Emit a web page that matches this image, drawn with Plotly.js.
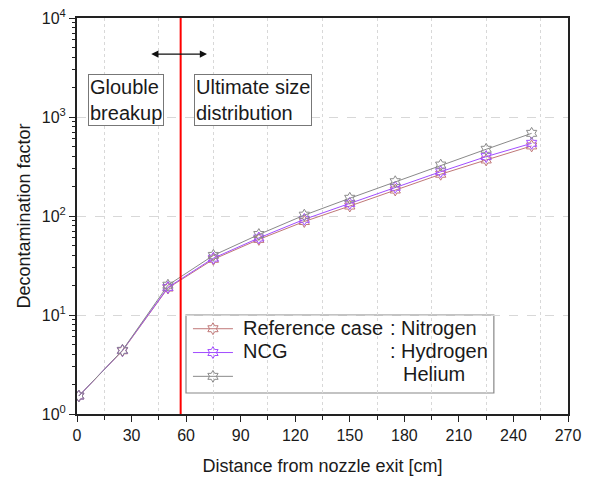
<!DOCTYPE html>
<html>
<head>
<meta charset="utf-8">
<script src="https://cdn.plot.ly/plotly-3.0.1.min.js"></script>
<style>html,body{margin:0;padding:0;background:#fff;}#chart{width:592px;height:478px;}</style>
</head>
<body>
<div id="chart"></div>
<script>
const distance = [1, 25, 50, 75, 100, 125, 150, 175, 200, 225, 250];
const nitrogen = [1.52, 4.35, 18.7, 36.5, 58, 88, 126, 183, 264, 368, 510];
const hydrogen = [1.52, 4.38, 19.0, 37.5, 60, 92.5, 134, 195, 280, 398, 542];
const helium   = [1.52, 4.40, 20.0, 40.0, 65, 102, 151, 222, 327, 472, 684];
const seriesNames = ['Reference case', 'NCG', ''];
const gasNames = [': Nitrogen', ': Hydrogen', 'Helium'];
const boundary = 57;
const yTickVals = [1, 10, 100, 1000, 10000];
const yTickText = ['10<sup>0</sup>', '10<sup>1</sup>', '10<sup>2</sup>', '10<sup>3</sup>', '10<sup>4</sup>'];

const FONT = 'Liberation Sans, Arial, sans-serif';
const TXT = '#1a1a1a';
const colors = ['#c07878', '#a24dff', '#8a8a8a'];
const ys = [nitrogen, hydrogen, helium];
const rowY = [0.217, 0.159, 0.101];

const traces = ys.map((y, i) => ({
  x: distance, y: y, name: ' ',
  mode: 'lines+markers', type: 'scatter',
  line: {color: colors[i], width: 1},
  marker: {symbol: 'hexagram-open', size: 9, color: colors[i], line: {width: 1, color: colors[i]}}
}));

const minorY = [];
for (let d = 0; d < 4; d++) for (let k = 2; k <= 9; k++) minorY.push(k * Math.pow(10, d));

const nameAnn = seriesNames.filter(t => t).map((t, i) => ({
  xref: 'paper', yref: 'paper', x: 0.334, y: rowY[i],
  xanchor: 'left', yanchor: 'middle', showarrow: false, text: t,
  font: {family: FONT, size: 20, color: TXT}
}));
const gasAnn = gasNames.map((t, i) => ({
  xref: 'paper', yref: 'paper', x: i < 2 ? 0.634 : 0.660, y: rowY[i],
  xanchor: 'left', yanchor: 'middle', showarrow: false, text: t,
  font: {family: FONT, size: 20, color: TXT}
}));

const layout = {
  width: 592, height: 478,
  margin: {l: 77, r: 24, t: 18, b: 64},
  paper_bgcolor: '#fff', plot_bgcolor: '#fff',
  font: {family: FONT, size: 16, color: TXT},
  showlegend: true,
  legend: {x: 0.226, y: 0.258, xanchor: 'left', yanchor: 'top',
    bgcolor: 'rgba(0,0,0,0)', borderwidth: 0,
    font: {family: FONT, size: 16, color: TXT}, tracegroupgap: 0, itemwidth: 40},
  xaxis: {
    range: [0, 270], dtick: 30, tick0: 0,
    showgrid: false, zeroline: false,
    ticks: 'outside', ticklen: 6, tickwidth: 1, tickcolor: '#222',
    showline: true, linecolor: '#222', linewidth: 2, mirror: true,
    minor: {dtick: 15, tick0: 0, ticks: 'outside', ticklen: 4, tickcolor: '#222', showgrid: true, gridcolor: '#d8d8d8', griddash: 'dot', gridwidth: 1},
    tickfont: {family: FONT, size: 16, color: TXT},
    title: {text: 'Distance from nozzle exit [cm]', font: {family: FONT, size: 18, color: TXT}, standoff: 16}
  },
  yaxis: {
    type: 'log', range: [0, 4],
    tickvals: yTickVals, ticktext: yTickText,
    showgrid: true, gridcolor: '#d8d8d8', griddash: 'dash', gridwidth: 1,
    zeroline: false,
    ticks: 'outside', ticklen: 6, tickwidth: 1, tickcolor: '#222',
    showline: true, linecolor: '#222', linewidth: 2, mirror: true,
    minor: {tickvals: minorY, ticks: 'outside', ticklen: 3, tickcolor: '#222', showgrid: false},
    tickfont: {family: FONT, size: 16, color: TXT},
    title: {text: 'Decontamination factor', font: {family: FONT, size: 18, color: TXT}, standoff: 6}
  },
  shapes: [
    {type: 'rect', xref: 'paper', yref: 'paper', x0: 0.222, x1: 0.849, y0: 0.053, y1: 0.25,
      line: {color: '#888', width: 1.2}, fillcolor: '#fff', layer: 'between'},
    {type: 'line', xref: 'x', yref: 'paper', x0: boundary, x1: boundary, y0: 0, y1: 1,
      line: {color: '#ff0000', width: 2}, layer: 'above'}
  ],
  annotations: [
    {xref: 'paper', yref: 'paper', x: 0.0988, y: 0.793, xanchor: 'center', yanchor: 'middle',
      showarrow: false, text: 'Glouble<br>breakup', align: 'left',
      font: {family: FONT, size: 20, color: TXT},
      bordercolor: '#777', borderwidth: 1, borderpad: 1, bgcolor: '#fff'},
    {xref: 'paper', yref: 'paper', x: 0.358, y: 0.793, xanchor: 'center', yanchor: 'middle',
      showarrow: false, text: 'Ultimate size<br>distribution', align: 'left',
      font: {family: FONT, size: 20, color: TXT},
      bordercolor: '#777', borderwidth: 1, borderpad: 1, bgcolor: '#fff'},
    {xref: 'x', yref: 'y', x: 71.5, y: 3.636, axref: 'x', ayref: 'y', ax: 40, ay: 3.636,
      text: '', showarrow: true, arrowhead: 2, arrowside: 'end+start', arrowsize: 1.2,
      arrowwidth: 1.2, arrowcolor: '#111'}
  ].concat(nameAnn, gasAnn)
};

Plotly.newPlot('chart', traces, layout, {displayModeBar: false, staticPlot: true});
</script>
</body>
</html>
